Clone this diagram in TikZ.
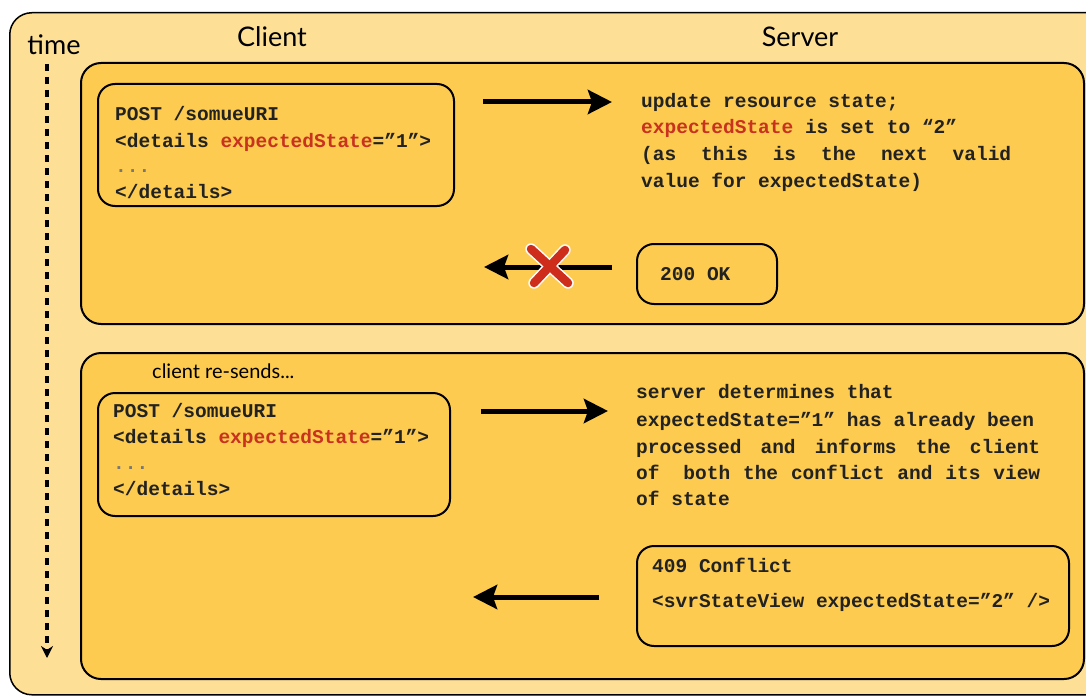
\documentclass[tikz,border=0pt]{standalone}
\usepackage{fontspec}
\setmainfont{Lato}
\newfontfamily\codefont{Liberation Mono}
\usetikzlibrary{arrows.meta}
\definecolor{outerfill}{HTML}{FDDF96}
\definecolor{panelfill}{HTML}{FCCB4F}
\definecolor{codered}{HTML}{C8321E}
\definecolor{codeink}{HTML}{222222}
\definecolor{dotgray}{HTML}{777777}
\newcommand{\redES}{\textcolor{codered}{expectedState}}
\begin{document}
\begin{tikzpicture}[x=1pt,y=-1pt,
  code/.style={font=\codefont\bfseries\fontsize{19.5}{23}\selectfont, text=codeink, inner sep=0pt, anchor=base west},
  lbl/.style={font=\fontsize{27}{30}\selectfont, text=black, inner sep=0pt, anchor=base},
  panel/.style={draw=black, line width=2pt, fill=panelfill, rounded corners=20pt, anchor=north west, inner sep=0pt},
  msgbox/.style={draw=black, line width=2pt, rounded corners=17pt, anchor=north west, inner sep=0pt},
  msg/.style={line width=5pt, -{Stealth[length=24pt,width=24pt,inset=4pt]}},
  cross/.style={line width=8.5pt, codered!90!red, line cap=round},
  crossedge/.style={line width=11.5pt, white, line cap=round}
]
\useasboundingbox (0,0) rectangle (1086,698);
\clip (0,0) rectangle (1086,698);
\fill[white] (0,0) rectangle (1086,698);
% outer frame
\node[draw=black, line width=1.5pt, fill=outerfill, rounded corners=22pt, anchor=north west, inner sep=0pt,
      minimum width=1100, minimum height=682] (frame) at (9,12) {};
% headings
\node[lbl] (time) at (54,55) {time};
\node[lbl] (client) at (272,47) {Client};
\node[lbl] (server) at (800,47) {Server};
% time arrow
\coordinate (t1) at (47,64);
\coordinate (t2) at (47,658);
\draw[line width=3.5pt, dash pattern=on 7pt off 6pt, -{Stealth[length=12pt,width=12pt]}] (t1) -- (t2);
% panels
\node[panel, minimum width=1003, minimum height=261] (p1) at (80,62) {};
\node[panel, minimum width=1003, minimum height=326] (p2) at (80,352) {};

% ---------- panel 1 ----------
\node[msgbox, minimum width=356, minimum height=122] (boxA) at (97,83) {};
\node[code] (a1) at (115,121) {POST /somueURI};
\node[code] (a2) at (115,147) {<details \redES=”1”>};
\node[code, text=dotgray] (a3) at (115,172) {...};
\node[code] (a4) at (115,198) {</details>};

\coordinate (r1s) at (483,102);
\coordinate (r1e) at (612,102);
\draw[msg] (r1s) -- (r1e);

\node[code] (s1) at (641,107) {update resource state;};
\node[code] (s2) at (641,134) {\redES{} is set to “2”};
\node[code] (s3) at (641,160) {\makebox[370pt][l]{(as\hfill this\hfill is\hfill the\hfill next\hfill valid}};
\node[code] (s4) at (641,187) {value for expectedState)};

\node[msgbox, minimum width=140, minimum height=60] (ok) at (636,243) {};
\node[code] (okt) at (660,280) {200 OK};

\coordinate (b1s) at (612,267);
\coordinate (b1e) at (484,267);
\draw[msg] (b1s) -- (b1e);
\coordinate (x1) at (531,249);
\coordinate (x2) at (568,283);
\coordinate (x3) at (565,250);
\coordinate (x4) at (534,283);
\draw[crossedge] (x1) -- (x2);
\draw[crossedge] (x3) -- (x4);
\draw[cross] (x1) -- (x2);
\draw[cross] (x3) -- (x4);

% ---------- panel 2 ----------
\node[font=\fontsize{20}{24}\selectfont, inner sep=0pt, anchor=base west] (resend) at (152,378) {client re-sends...};
\node[msgbox, minimum width=352, minimum height=123] (boxB) at (97,392) {};
\node[code] (c1) at (113,417) {POST /somueURI};
\node[code] (c2) at (113,443) {<details \redES=”1”>};
\node[code, text=dotgray] (c3) at (113,469) {...};
\node[code] (c4) at (113,495) {</details>};

\coordinate (r2s) at (481,411);
\coordinate (r2e) at (608,411);
\draw[msg] (r2s) -- (r2e);

\node[code] (d1) at (636,398) {server determines that};
\node[code] (d2) at (636,426) {expectedState=”1” has already been};
\node[code] (d3) at (636,453) {\makebox[404pt][l]{processed\hfill and\hfill informs\hfill the\hfill client}};
\node[code] (d4) at (636,479) {\makebox[404pt][l]{of\hspace{11pt}\hfill both\hfill the\hfill conflict\hfill and\hfill its\hfill view}};
\node[code] (d5) at (636,505) {of state};

\node[msgbox, minimum width=432, minimum height=100] (conf) at (636,545) {};
\node[code] (e1) at (652,572) {409 Conflict};
\node[code] (e2) at (652,607) {<svrStateView expectedState=”2” />};

\coordinate (b2s) at (599,597);
\coordinate (b2e) at (473,597);
\draw[msg] (b2s) -- (b2e);
\end{tikzpicture}
\end{document}
